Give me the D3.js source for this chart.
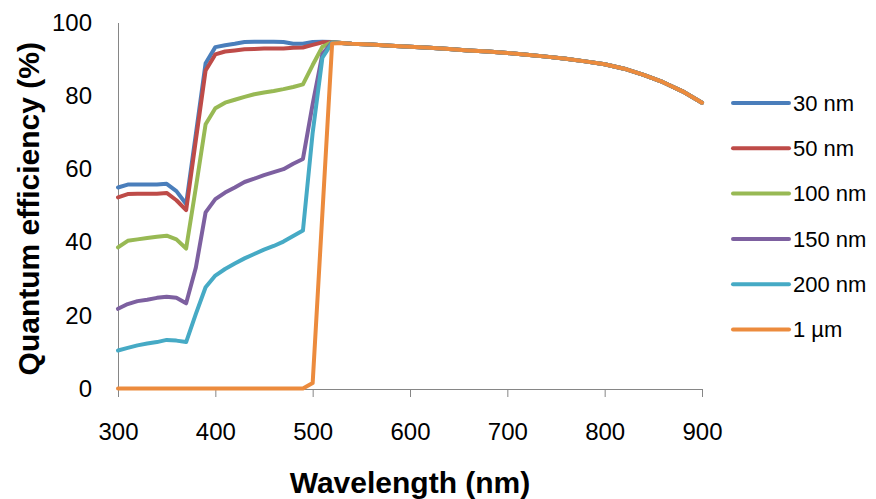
<!DOCTYPE html>
<html>
<head>
<meta charset="utf-8">
<script src="https://cdn.jsdelivr.net/npm/d3@7"></script>
<style>
  body { margin: 0; background: #fff; }
  svg { display: block; font-family: "Liberation Sans", Arial, sans-serif; }
  .axis path, .axis line { stroke: #868686; }
  .axis text { fill: #000; font-size: 24px; }
</style>
</head>
<body>
<svg id="chart" width="876" height="499"></svg>
<script>
  // wavelength grid (nm)
  const wavelengths = [300, 310, 320, 330, 340, 350, 360, 370, 380, 390, 400, 410, 420, 430, 440, 450,
    460, 470, 480, 490, 500, 510, 520, 530, 540, 560, 580, 600, 620, 640, 660, 680, 700, 720, 740,
    760, 780, 800, 820, 840, 860, 880, 900];

  // quantum efficiency (%) per layer thickness
  const qe30 = [55.0, 55.8, 55.8, 55.8, 55.8, 56.0, 54.0, 50.5, 69.6, 89.0, 93.4, 93.9, 94.3, 94.8, 94.9, 94.9,
    94.9, 94.8, 94.3, 94.3, 94.8, 94.9, 94.8, 94.5, 94.3, 94.1, 93.8, 93.5, 93.2, 92.9, 92.5, 92.2, 91.8, 91.3, 90.8,
    90.2, 89.5, 88.7, 87.5, 85.8, 83.8, 81.3, 78.2];
  const qe50 = [52.3, 53.2, 53.3, 53.3, 53.3, 53.5, 51.5, 48.8, 68.0, 87.0, 91.4, 92.2, 92.5, 92.8, 92.9, 93.0,
    93.0, 93.0, 93.2, 93.3, 94.0, 94.7, 94.7, 94.5, 94.3, 94.1, 93.8, 93.5, 93.2, 92.9, 92.5, 92.2, 91.8, 91.3, 90.8,
    90.2, 89.5, 88.7, 87.5, 85.8, 83.8, 81.3, 78.2];
  const qe100 = [38.6, 40.4, 40.8, 41.2, 41.5, 41.8, 40.8, 38.3, 55.0, 72.3, 76.7, 78.2, 79.0, 79.8, 80.5, 81.0,
    81.4, 81.9, 82.5, 83.2, 88.5, 93.5, 94.8, 94.5, 94.3, 94.1, 93.8, 93.5, 93.2, 92.9, 92.5, 92.2, 91.8, 91.3, 90.8,
    90.2, 89.5, 88.7, 87.5, 85.8, 83.8, 81.3, 78.2];
  const qe150 = [21.8, 23.1, 23.9, 24.3, 24.8, 25.1, 24.8, 23.3, 33.1, 48.2, 51.8, 53.6, 55.0, 56.5, 57.4, 58.4,
    59.2, 60.0, 61.5, 62.8, 77.8, 91.5, 94.7, 94.5, 94.3, 94.1, 93.8, 93.5, 93.2, 92.9, 92.5, 92.2, 91.8, 91.3, 90.8,
    90.2, 89.5, 88.7, 87.5, 85.8, 83.8, 81.3, 78.2];
  const qe200 = [10.4, 11.1, 11.8, 12.3, 12.7, 13.3, 13.1, 12.7, 20.4, 27.7, 30.9, 32.7, 34.2, 35.6, 36.8, 38.0,
    39.0, 40.2, 41.7, 43.2, 70.0, 90.5, 94.6, 94.5, 94.3, 94.1, 93.8, 93.5, 93.2, 92.9, 92.5, 92.2, 91.8, 91.3, 90.8,
    90.2, 89.5, 88.7, 87.5, 85.8, 83.8, 81.3, 78.2];
  const qe1um = [0, 0, 0, 0, 0, 0, 0, 0, 0, 0, 0, 0, 0, 0, 0, 0,
    0, 0, 0, 0, 1.5, 48.0, 94.4, 94.5, 94.3, 94.1, 93.8, 93.5, 93.2, 92.9, 92.5, 92.2, 91.8, 91.3, 90.8,
    90.2, 89.5, 88.7, 87.5, 85.8, 83.8, 81.3, 78.2];

  const seriesNames = ["30 nm", "50 nm", "100 nm", "150 nm", "200 nm", "1 \u00b5m"];
  const seriesValues = [qe30, qe50, qe100, qe150, qe200, qe1um];
  const seriesColors = ["#4a7ebb", "#be4b48", "#98b954", "#7d60a0", "#46aac5", "#ec8b3d"];

  const xTicks = [300, 400, 500, 600, 700, 800, 900];
  const yTicks = [0, 20, 40, 60, 80, 100];

  const svg = d3.select("#chart");

  const x = d3.scaleLinear().domain([300, 900]).range([118, 702]);
  const y = d3.scaleLinear().domain([0, 100]).range([388.5, 23]);

  // y axis
  svg.append("g")
    .attr("class", "axis")
    .attr("transform", `translate(${x(300)},0)`)
    .call(d3.axisLeft(y).tickValues(yTicks).tickSize(0).tickSizeOuter(0).tickPadding(26))
    .call(g => g.select(".domain").attr("d", `M0.5,${y(100)}V${y(0)}`));

  // x axis
  svg.append("g")
    .attr("class", "axis")
    .attr("transform", `translate(0,${y(0) + 0.5})`)
    .call(d3.axisBottom(x).tickValues(xTicks).tickSize(8).tickSizeOuter(0).tickPadding(26));

  svg.selectAll(".axis text").attr("font-family", null);

  // lines
  const line = d3.line()
    .x((d, i) => x(wavelengths[i]))
    .y(d => y(d));

  svg.append("g")
    .selectAll("path")
    .data(seriesValues)
    .join("path")
    .attr("fill", "none")
    .attr("stroke", (d, i) => seriesColors[i])
    .attr("stroke-width", 4)
    .attr("stroke-linejoin", "round")
    .attr("stroke-linecap", "round")
    .attr("d", line);

  // legend
  const legend = svg.append("g")
    .selectAll("g")
    .data(seriesNames)
    .join("g")
    .attr("transform", (d, i) => `translate(733,${103 + i * 45.3})`);

  legend.append("line")
    .attr("x1", 0)
    .attr("x2", 56)
    .attr("stroke", (d, i) => seriesColors[i])
    .attr("stroke-width", 4)
    .attr("stroke-linecap", "round");

  legend.append("text")
    .attr("x", 60)
    .attr("dy", "0.35em")
    .attr("font-size", 22)
    .attr("fill", "#000")
    .text(d => d);

  // axis titles
  svg.append("text")
    .attr("x", (x(300) + x(900)) / 2)
    .attr("y", 493)
    .attr("text-anchor", "middle")
    .attr("font-size", 30)
    .attr("font-weight", "bold")
    .text("Wavelength (nm)");

  svg.append("text")
    .attr("transform", `translate(39,${(y(0) + y(100)) / 2 + 3}) rotate(-90)`)
    .attr("text-anchor", "middle")
    .attr("font-size", 30)
    .attr("font-weight", "bold")
    .text("Quantum efficiency (%)");
</script>
</body>
</html>
